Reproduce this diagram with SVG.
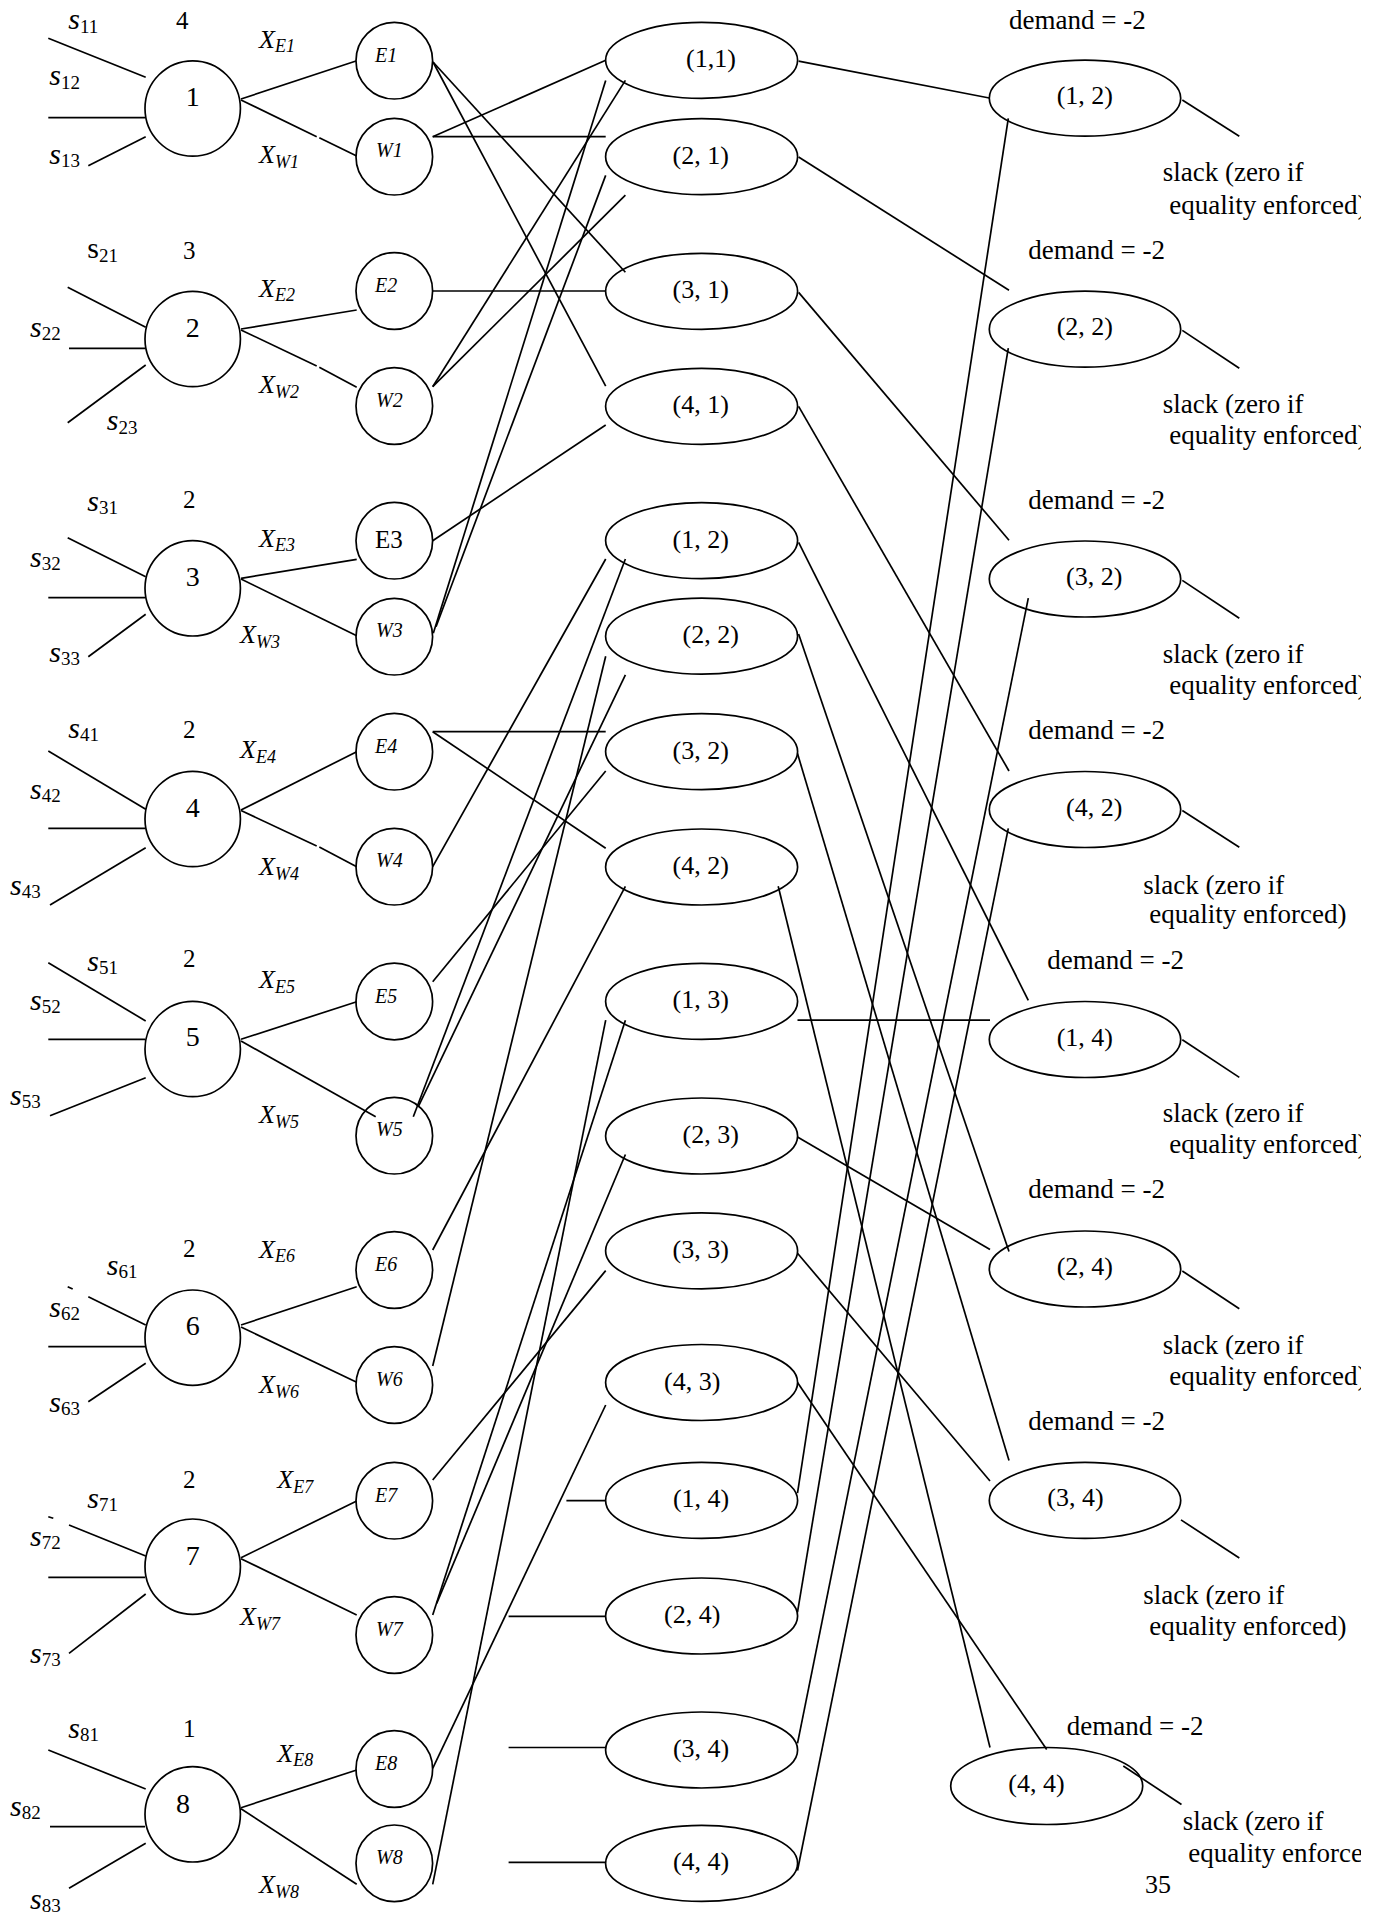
<svg xmlns="http://www.w3.org/2000/svg" width="1379" height="1923" viewBox="0 0 1379 1923">
<style>
.ln{stroke:#000;stroke-width:1.7;fill:none}
.nd{fill:#fff;stroke:#000;stroke-width:1.7}
text{font-family:"Liberation Serif","Times New Roman",serif;fill:#000}
.nl{font-size:28px;text-anchor:middle}
.sup{font-size:25px}
.s{font-size:30px;font-style:italic}
.sub{font-size:19px;font-style:normal}
.x{font-size:26px;font-style:italic}
.xs{font-size:18px;font-style:italic}
.ew{font-size:20px;font-style:italic}
.el{font-size:26px}
.rt{font-size:27px}
</style>
<defs>
<clipPath id="clipR"><rect x="0" y="0" width="1361" height="1923"/></clipPath>
</defs>
<rect width="1379" height="1923" fill="#fff"/>

<!-- supply nodes -->
<g id="n1"><circle class="nd" cx="192.7" cy="108.5" r="47.7"/><text class="nl" x="192.7" y="106">1</text></g>
<g id="n2"><circle class="nd" cx="192.7" cy="339" r="47.7"/><text class="nl" x="192.7" y="337">2</text></g>
<g id="n3"><circle class="nd" cx="192.7" cy="588.3" r="47.7"/><text class="nl" x="192.7" y="586">3</text></g>
<g id="n4"><circle class="nd" cx="192.7" cy="819" r="47.7"/><text class="nl" x="192.7" y="817">4</text></g>
<g id="n5"><circle class="nd" cx="192.7" cy="1049" r="47.7"/><text class="nl" x="192.7" y="1046">5</text></g>
<g id="n6"><circle class="nd" cx="192.7" cy="1337.7" r="47.7"/><text class="nl" x="192.7" y="1335">6</text></g>
<g id="n7"><circle class="nd" cx="192.7" cy="1566.7" r="47.7"/><text class="nl" x="192.7" y="1565">7</text></g>
<g id="n8"><circle class="nd" cx="192.7" cy="1814.3" r="47.7"/><text class="nl" x="183" y="1812.7">8</text></g>

<!-- E / W nodes -->
<g id="e1"><circle class="nd" cx="394.3" cy="60.7" r="38.3"/><text class="ew" x="375" y="61.7">E1</text></g>
<g id="w1"><circle class="nd" cx="394.3" cy="156.7" r="38.3"/><text class="ew" x="376" y="157">W1</text></g>
<g id="e2"><circle class="nd" cx="394.3" cy="291" r="38.3"/><text class="ew" x="375" y="292">E2</text></g>
<g id="w2"><circle class="nd" cx="394.3" cy="406" r="38.3"/><text class="ew" x="376" y="406.5">W2</text></g>
<g id="e3"><circle class="nd" cx="394.3" cy="540.7" r="38.3"/><text x="375" y="548.3" style="font-size:25px">E3</text></g>
<g id="w3"><circle class="nd" cx="394.3" cy="636.7" r="38.3"/><text class="ew" x="376" y="637">W3</text></g>
<g id="e4"><circle class="nd" cx="394.3" cy="751.7" r="38.3"/><text class="ew" x="375" y="752.7">E4</text></g>
<g id="w4"><circle class="nd" cx="394.3" cy="866.7" r="38.3"/><text class="ew" x="376" y="867">W4</text></g>
<g id="e5"><circle class="nd" cx="394.3" cy="1001.5" r="38.3"/><text class="ew" x="375" y="1002.5">E5</text></g>
<g id="w5"><circle class="nd" cx="394.3" cy="1135.7" r="38.3"/><text class="ew" x="376" y="1136">W5</text></g>
<g id="e6"><circle class="nd" cx="394.3" cy="1270" r="38.3"/><text class="ew" x="375" y="1271">E6</text></g>
<g id="w6"><circle class="nd" cx="394.3" cy="1385" r="38.3"/><text class="ew" x="376" y="1385.5">W6</text></g>
<g id="e7"><circle class="nd" cx="394.3" cy="1500.7" r="38.3"/><text class="ew" x="375" y="1501.7">E7</text></g>
<g id="w7"><circle class="nd" cx="394.3" cy="1635" r="38.3"/><text class="ew" x="376" y="1635.5">W7</text></g>
<g id="e8"><circle class="nd" cx="394.3" cy="1769" r="38.3"/><text class="ew" x="375" y="1770">E8</text></g>
<g id="w8"><circle class="nd" cx="394.3" cy="1863.3" r="38.3"/><text class="ew" x="376" y="1863.5">W8</text></g>

<!-- middle ellipses -->
<g id="m11"><ellipse class="nd" cx="701.6" cy="60.3" rx="96" ry="38"/><text class="el" x="686" y="67.3">(1,1)</text></g>
<g id="m21"><ellipse class="nd" cx="701.6" cy="156.7" rx="96" ry="38"/><text class="el" x="672.5" y="163.7">(2, 1)</text></g>
<g id="m31"><ellipse class="nd" cx="701.6" cy="291.3" rx="96" ry="38"/><text class="el" x="672.5" y="298.3">(3, 1)</text></g>
<g id="m41"><ellipse class="nd" cx="701.6" cy="406.3" rx="96" ry="38"/><text class="el" x="672.5" y="413.3">(4, 1)</text></g>
<g id="m12"><ellipse class="nd" cx="701.6" cy="540.6" rx="96" ry="38"/><text class="el" x="672.5" y="547.6">(1, 2)</text></g>
<g id="m22"><ellipse class="nd" cx="701.6" cy="636.2" rx="96" ry="38"/><text class="el" x="682.5" y="643.2">(2, 2)</text></g>
<g id="m32"><ellipse class="nd" cx="701.6" cy="751.6" rx="96" ry="38"/><text class="el" x="672.5" y="758.6">(3, 2)</text></g>
<g id="m42"><ellipse class="nd" cx="701.6" cy="867" rx="96" ry="38"/><text class="el" x="672.5" y="874">(4, 2)</text></g>
<g id="m13"><ellipse class="nd" cx="701.6" cy="1001.4" rx="96" ry="38"/><text class="el" x="672.5" y="1008.4">(1, 3)</text></g>
<g id="m23"><ellipse class="nd" cx="701.6" cy="1136" rx="96" ry="38"/><text class="el" x="682.5" y="1143">(2, 3)</text></g>
<g id="m33"><ellipse class="nd" cx="701.6" cy="1250.8" rx="96" ry="38"/><text class="el" x="672.5" y="1257.8">(3, 3)</text></g>
<g id="m43"><ellipse class="nd" cx="701.6" cy="1382.5" rx="96" ry="38"/><text class="el" x="664" y="1389.5">(4, 3)</text></g>
<g id="m14"><ellipse class="nd" cx="701.6" cy="1500.4" rx="96" ry="38"/><text class="el" x="672.9" y="1507.4">(1, 4)</text></g>
<g id="m24"><ellipse class="nd" cx="701.6" cy="1616" rx="96" ry="38"/><text class="el" x="664" y="1623">(2, 4)</text></g>
<g id="m34"><ellipse class="nd" cx="701.6" cy="1750" rx="96" ry="38"/><text class="el" x="672.9" y="1757">(3, 4)</text></g>
<g id="m44"><ellipse class="nd" cx="701.6" cy="1863.4" rx="96" ry="38"/><text class="el" x="672.9" y="1870.4">(4, 4)</text></g>

<!-- right ellipses -->
<g id="r12"><ellipse class="nd" cx="1085" cy="98.2" rx="95.7" ry="38"/><text class="el" x="1056.7" y="104.2">(1, 2)</text></g>
<g id="r22"><ellipse class="nd" cx="1085" cy="329.2" rx="95.7" ry="38"/><text class="el" x="1056.7" y="335.2">(2, 2)</text></g>
<g id="r32"><ellipse class="nd" cx="1085" cy="579" rx="95.7" ry="38"/><text class="el" x="1066" y="585">(3, 2)</text></g>
<g id="r42"><ellipse class="nd" cx="1085" cy="809.5" rx="95.7" ry="38"/><text class="el" x="1066" y="815.5">(4, 2)</text></g>
<g id="r14"><ellipse class="nd" cx="1085" cy="1039.5" rx="95.7" ry="38"/><text class="el" x="1056.7" y="1045.5">(1, 4)</text></g>
<g id="r24"><ellipse class="nd" cx="1085" cy="1269" rx="95.7" ry="38"/><text class="el" x="1056.7" y="1275">(2, 4)</text></g>
<g id="r34"><ellipse class="nd" cx="1085" cy="1500.4" rx="95.7" ry="38"/><text class="el" x="1047.3" y="1506.4">(3, 4)</text></g>
<g id="r44"><ellipse class="nd" cx="1046.7" cy="1786" rx="96" ry="38.5"/><text class="el" x="1008.3" y="1792">(4, 4)</text></g>

<!-- connectors -->
<g id="connectors" class="ln">
<!-- supply arcs -->
<line x1="48.3" y1="38.3" x2="145.7" y2="77.3"/><line x1="48.3" y1="117.7" x2="145" y2="117.7"/><line x1="88.3" y1="165.7" x2="145.7" y2="136.7"/>
<line x1="67.7" y1="287.3" x2="145.7" y2="327.3"/><line x1="69" y1="348.3" x2="145" y2="348.3"/><line x1="67.7" y1="422.7" x2="145.7" y2="365"/>
<line x1="67.7" y1="537.7" x2="145.7" y2="576.7"/><line x1="48.3" y1="597.7" x2="145" y2="597.7"/><line x1="88.3" y1="656.7" x2="145.7" y2="614.3"/>
<line x1="48.3" y1="751" x2="145.7" y2="809.3"/><line x1="48.3" y1="828.3" x2="145" y2="828.3"/><line x1="50" y1="905" x2="145.7" y2="847.7"/>
<line x1="48.3" y1="962.7" x2="145.7" y2="1021"/><line x1="48.3" y1="1039.3" x2="145" y2="1039.3"/><line x1="50" y1="1115.7" x2="145.7" y2="1077.7"/>
<line x1="67.7" y1="1286.7" x2="72.7" y2="1289"/><line x1="88.3" y1="1296.7" x2="145.7" y2="1325"/><line x1="48.3" y1="1346.7" x2="145" y2="1346.7"/><line x1="88.3" y1="1401.7" x2="145.7" y2="1363.3"/>
<line x1="48.3" y1="1516.7" x2="53.3" y2="1518.3"/><line x1="69" y1="1525" x2="145.7" y2="1556"/><line x1="48.3" y1="1577.3" x2="145" y2="1577.3"/><line x1="69" y1="1653.3" x2="145.7" y2="1594"/>
<line x1="48.3" y1="1750" x2="145.7" y2="1789"/><line x1="50" y1="1826.7" x2="145" y2="1826.7"/><line x1="69" y1="1888.3" x2="145.7" y2="1843.3"/>
<!-- supply node to E/W -->
<line x1="241" y1="99" x2="356" y2="61"/><line x1="241" y1="100" x2="316.7" y2="136.7"/><line x1="319.3" y1="137.7" x2="356.7" y2="156"/>
<line x1="241" y1="329" x2="356.7" y2="310"/><line x1="241" y1="330" x2="316.7" y2="366"/><line x1="319.3" y1="367.3" x2="356.7" y2="387.3"/>
<line x1="241" y1="578.3" x2="356.7" y2="559.3"/><line x1="241" y1="579" x2="356.7" y2="635.7"/>
<line x1="241" y1="810" x2="356.7" y2="751.7"/><line x1="241" y1="810.5" x2="316.7" y2="846"/><line x1="319.3" y1="847" x2="356.7" y2="866.7"/>
<line x1="241" y1="1039.3" x2="356.7" y2="1001.7"/><line x1="241" y1="1041" x2="375.7" y2="1116.7"/>
<line x1="241" y1="1325" x2="356.7" y2="1286.7"/><line x1="241" y1="1327" x2="356.7" y2="1382.3"/>
<line x1="241" y1="1557.7" x2="356.7" y2="1501"/><line x1="241" y1="1558.7" x2="356.7" y2="1615"/>
<line x1="241" y1="1807.7" x2="356.7" y2="1770"/><line x1="241" y1="1808.7" x2="356.7" y2="1884.3"/>
<!-- E/W to middle -->
<line x1="433" y1="62" x2="625.4" y2="272.3"/><line x1="433" y1="62" x2="605.7" y2="386.2"/>
<line x1="432.7" y1="136.7" x2="605.7" y2="60.3"/><line x1="432.7" y1="136.7" x2="605.7" y2="136.7"/>
<line x1="432.7" y1="291" x2="605.7" y2="291"/>
<line x1="432.7" y1="386.7" x2="625.4" y2="80.4"/><line x1="432.7" y1="386.7" x2="625.4" y2="195.1"/>
<line x1="432.7" y1="540.7" x2="605.7" y2="425"/>
<line x1="433.3" y1="633.3" x2="605.7" y2="80.4"/><line x1="436" y1="626.7" x2="605.7" y2="175.4"/>
<line x1="432.7" y1="731.7" x2="605.7" y2="731.7"/><line x1="432.7" y1="731.7" x2="605.7" y2="848.2"/>
<line x1="432.7" y1="866.7" x2="605.7" y2="559"/>
<line x1="432.7" y1="981.7" x2="605.7" y2="771"/>
<line x1="413.3" y1="1116.7" x2="625.4" y2="559"/><line x1="418.3" y1="1106.7" x2="625.4" y2="674.9"/>
<line x1="432.7" y1="1250" x2="625.4" y2="886.3"/>
<line x1="432.7" y1="1366" x2="605.7" y2="656.2"/>
<line x1="432.7" y1="1480" x2="605.7" y2="1270.6"/>
<line x1="432.7" y1="1615" x2="625.4" y2="1020.2"/><line x1="436.7" y1="1603.3" x2="625.4" y2="1154.5"/>
<line x1="432.7" y1="1768.3" x2="605.7" y2="1405"/>
<line x1="432.7" y1="1884.3" x2="605.7" y2="1020.2"/>
<!-- stubs into (i,4) -->
<line x1="566.4" y1="1500.6" x2="605.7" y2="1500.6"/>
<line x1="508.6" y1="1616.3" x2="605.7" y2="1616.3"/>
<line x1="508.6" y1="1747.5" x2="605.7" y2="1747.5"/>
<line x1="508.6" y1="1862.3" x2="605.7" y2="1862.3"/>
<!-- middle to right -->
<line x1="798.6" y1="61.2" x2="989.3" y2="98"/>
<line x1="798.6" y1="157" x2="1009" y2="290.2"/>
<line x1="798.6" y1="292.4" x2="1009" y2="540.2"/>
<line x1="798.6" y1="406.3" x2="1009" y2="771"/>
<line x1="798.6" y1="542.4" x2="1028.3" y2="1000.3"/>
<line x1="798.6" y1="634" x2="1009" y2="1251.4"/>
<line x1="797.5" y1="753.6" x2="1009" y2="1460.4"/>
<line x1="778.2" y1="886.3" x2="990" y2="1747.5"/>
<line x1="797.5" y1="1020.2" x2="990" y2="1020.2"/>
<line x1="797.5" y1="1137.1" x2="990" y2="1249.4"/>
<line x1="797.5" y1="1253.2" x2="990" y2="1481"/>
<line x1="797.5" y1="1382.5" x2="1046.7" y2="1749.5"/>
<line x1="797.5" y1="1493.2" x2="1008.3" y2="118.3"/>
<line x1="797.5" y1="1612.2" x2="1008.3" y2="348.2"/>
<line x1="797.5" y1="1743.4" x2="1028.3" y2="598.2"/>
<line x1="797.5" y1="1870.5" x2="1008.3" y2="828.3"/>
<!-- slack arcs -->
<line x1="1182.3" y1="100" x2="1239.3" y2="136.2"/>
<line x1="1182.3" y1="330.4" x2="1239.3" y2="368.3"/>
<line x1="1182.3" y1="580.4" x2="1239.3" y2="618.3"/>
<line x1="1182.3" y1="810.5" x2="1239.3" y2="847.3"/>
<line x1="1182.3" y1="1039.8" x2="1239.3" y2="1077.4"/>
<line x1="1182.3" y1="1271" x2="1239.3" y2="1308.7"/>
<line x1="1181" y1="1519.9" x2="1239.3" y2="1558"/>
<line x1="1123.3" y1="1766" x2="1181.5" y2="1804.5"/>
</g>

<!-- labels -->
<g id="labels">
<text class="s" x="68.3" y="29.3">s<tspan class="sub" dy="4">11</tspan></text>
<text class="s" x="49.3" y="85">s<tspan class="sub" dy="3.5">12</tspan></text>
<text class="s" x="49.3" y="164">s<tspan class="sub" dy="3">13</tspan></text>
<text class="s" x="87.3" y="258.3" style="font-style:normal">s<tspan class="sub" dy="4">21</tspan></text>
<text class="s" x="30" y="337.3">s<tspan class="sub" dy="3">22</tspan></text>
<text class="s" x="106.7" y="430">s<tspan class="sub" dy="3.5">23</tspan></text>
<text class="s" x="87.3" y="511">s<tspan class="sub" dy="3">31</tspan></text>
<text class="s" x="30" y="567.3">s<tspan class="sub" dy="3">32</tspan></text>
<text class="s" x="49.3" y="662.3">s<tspan class="sub" dy="3">33</tspan></text>
<text class="s" x="68.3" y="738.3">s<tspan class="sub" dy="3">41</tspan></text>
<text class="s" x="30" y="799">s<tspan class="sub" dy="3">42</tspan></text>
<text class="s" x="10" y="895">s<tspan class="sub" dy="3">43</tspan></text>
<text class="s" x="87.3" y="971">s<tspan class="sub" dy="3">51</tspan></text>
<text class="s" x="30" y="1010">s<tspan class="sub" dy="3">52</tspan></text>
<text class="s" x="10" y="1105">s<tspan class="sub" dy="3">53</tspan></text>
<text class="s" x="106.7" y="1275">s<tspan class="sub" dy="3">61</tspan></text>
<text class="s" x="49.3" y="1317.3">s<tspan class="sub" dy="3">62</tspan></text>
<text class="s" x="49.3" y="1411.7">s<tspan class="sub" dy="3">63</tspan></text>
<text class="s" x="87.3" y="1507.7">s<tspan class="sub" dy="3">71</tspan></text>
<text class="s" x="30" y="1546">s<tspan class="sub" dy="3">72</tspan></text>
<text class="s" x="30" y="1662.7">s<tspan class="sub" dy="3">73</tspan></text>
<text class="s" x="68.3" y="1737.7">s<tspan class="sub" dy="3">81</tspan></text>
<text class="s" x="10" y="1816">s<tspan class="sub" dy="3">82</tspan></text>
<text class="s" x="30" y="1909.3">s<tspan class="sub" dy="3">83</tspan></text>

<text class="sup" x="176" y="29">4</text>
<text class="sup" x="183" y="259.3">3</text>
<text class="sup" x="183" y="508.3">2</text>
<text class="sup" x="183" y="738.3">2</text>
<text class="sup" x="183" y="967">2</text>
<text class="sup" x="183" y="1256.7">2</text>
<text class="sup" x="183" y="1487.7">2</text>
<text class="sup" x="183" y="1736.7">1</text>

<text class="x" x="259" y="47.7">X<tspan class="xs" dy="4.5">E1</tspan></text>
<text class="x" x="259" y="163.3">X<tspan class="xs" dy="4.5">W1</tspan></text>
<text class="x" x="259" y="296.7">X<tspan class="xs" dy="4.5">E2</tspan></text>
<text class="x" x="259" y="393.3">X<tspan class="xs" dy="4.5">W2</tspan></text>
<text class="x" x="259" y="546.7">X<tspan class="xs" dy="4.5">E3</tspan></text>
<text class="x" x="240" y="643.3">X<tspan class="xs" dy="4.5">W3</tspan></text>
<text class="x" x="240" y="758.3">X<tspan class="xs" dy="4.5">E4</tspan></text>
<text class="x" x="259" y="875">X<tspan class="xs" dy="4.5">W4</tspan></text>
<text class="x" x="259" y="988.3">X<tspan class="xs" dy="4.5">E5</tspan></text>
<text class="x" x="259" y="1123.3">X<tspan class="xs" dy="4.5">W5</tspan></text>
<text class="x" x="259" y="1257.7">X<tspan class="xs" dy="4.5">E6</tspan></text>
<text class="x" x="259" y="1393.3">X<tspan class="xs" dy="4.5">W6</tspan></text>
<text class="x" x="277.3" y="1488.3">X<tspan class="xs" dy="4.5">E7</tspan></text>
<text class="x" x="240" y="1625">X<tspan class="xs" dy="4.5">W7</tspan></text>
<text class="x" x="277.3" y="1761.7">X<tspan class="xs" dy="4.5">E8</tspan></text>
<text class="x" x="259" y="1893.3">X<tspan class="xs" dy="4.5">W8</tspan></text>

<text class="rt" x="1009" y="29">demand = -2</text>
<text class="rt" x="1028.3" y="259">demand = -2</text>
<text class="rt" x="1028.3" y="509">demand = -2</text>
<text class="rt" x="1028.3" y="739.3">demand = -2</text>
<text class="rt" x="1047.3" y="968.7">demand = -2</text>
<text class="rt" x="1028.3" y="1198">demand = -2</text>
<text class="rt" x="1028.3" y="1429.7">demand = -2</text>
<text class="rt" x="1066.7" y="1735">demand = -2</text>

<g clip-path="url(#clipR)">
<text class="rt" x="1162.7" y="180.8">slack (zero if</text>
<text class="rt" x="1169.3" y="214.3">equality enforced)</text>
<text class="rt" x="1162.7" y="413">slack (zero if</text>
<text class="rt" x="1169.3" y="444.2">equality enforced)</text>
<text class="rt" x="1162.7" y="663">slack (zero if</text>
<text class="rt" x="1169.3" y="694">equality enforced)</text>
<text class="rt" x="1143.3" y="893.5">slack (zero if</text>
<text class="rt" x="1149.3" y="923.2">equality enforced)</text>
<text class="rt" x="1162.7" y="1122">slack (zero if</text>
<text class="rt" x="1169.3" y="1152.5">equality enforced)</text>
<text class="rt" x="1162.7" y="1353.8">slack (zero if</text>
<text class="rt" x="1169.3" y="1384.6">equality enforced)</text>
<text class="rt" x="1143.3" y="1604">slack (zero if</text>
<text class="rt" x="1149.3" y="1634.7">equality enforced)</text>
<text class="rt" x="1182.7" y="1830">slack (zero if</text>
<text class="rt" x="1188.3" y="1861.7">equality enforce</text>
</g>
<text x="1145" y="1893" style="font-size:26px">35</text>
</g>
</svg>
